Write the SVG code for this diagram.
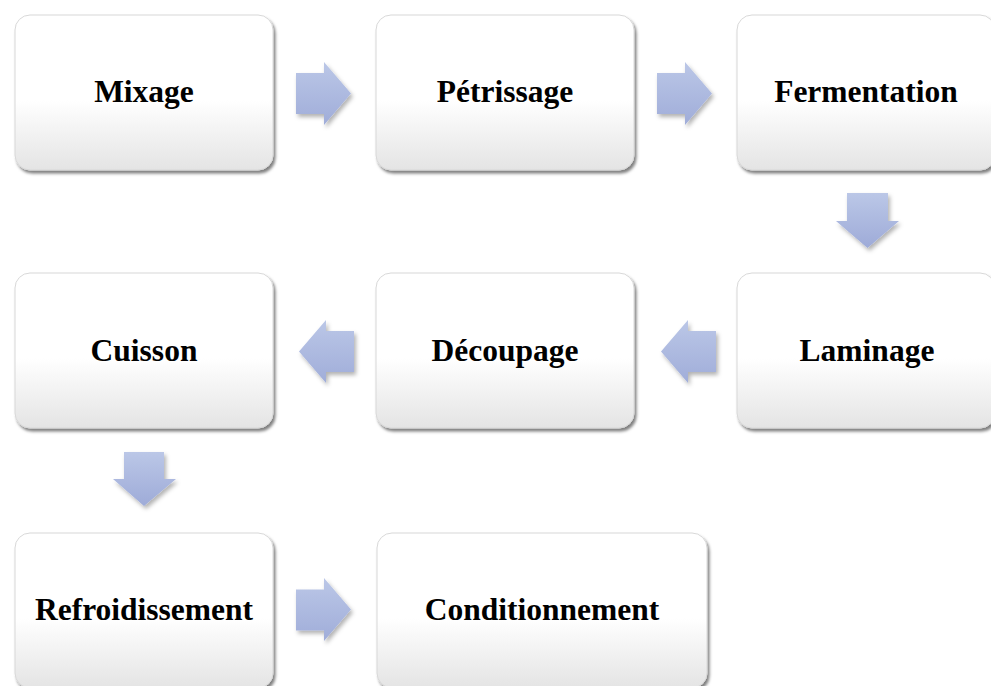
<svg xmlns="http://www.w3.org/2000/svg" width="991" height="686" viewBox="0 0 991 686">
<defs>
<linearGradient id="boxGrad" x1="0" y1="0" x2="0" y2="1">
<stop offset="0" stop-color="#ffffff"/>
<stop offset="0.55" stop-color="#ffffff"/>
<stop offset="1" stop-color="#e4e4e4"/>
</linearGradient>
<linearGradient id="arrGradH" x1="0" y1="0" x2="0" y2="1">
<stop offset="0" stop-color="#bbc7e7"/>
<stop offset="1" stop-color="#a0add9"/>
</linearGradient>
<linearGradient id="arrGradV" x1="0" y1="0" x2="0" y2="1">
<stop offset="0" stop-color="#bbc7e7"/>
<stop offset="1" stop-color="#9eabd8"/>
</linearGradient>
<filter id="boxShadow" x="-10%" y="-10%" width="125%" height="125%">
<feDropShadow dx="2" dy="3" stdDeviation="1.8" flood-color="#000" flood-opacity="0.5"/>
</filter>
<filter id="arrShadow" x="-30%" y="-30%" width="170%" height="170%">
<feDropShadow dx="2" dy="3" stdDeviation="2" flood-color="#000" flood-opacity="0.3"/>
</filter>
</defs>
<style>
.box { fill: url(#boxGrad); stroke: #d8d8d8; stroke-width: 1; filter: url(#boxShadow); }
.lbl { font-family: "Liberation Serif", "Times New Roman", serif; font-weight: bold; font-size: 31.5px; fill: #000; text-anchor: middle; }
.arr { filter: url(#arrShadow); }
.arrH { fill: url(#arrGradH); }
.arrV { fill: url(#arrGradV); }
</style>
<rect width="991" height="686" fill="#ffffff"/>

<g id="connectors">
<g class="arr">
<polygon class="arrH" points="296,73 324,73 324,62 351,93.5 324,125 324,114 296,114"/>
<polygon class="arrH" points="657,73 685,73 685,62 712,93.5 685,125 685,114 657,114"/>
<polygon class="arrV" points="847,193 888,193 888,221 899,221 867.5,248 836,221 847,221"/>
<polygon class="arrH" points="716,331 688,331 688,320 661,351.5 688,383 688,372 716,372"/>
<polygon class="arrH" points="354,331 326,331 326,320 299,351.5 326,383 326,372 354,372"/>
<polygon class="arrV" points="124,452 164,452 164,479 176,479 144,506 113,479 124,479"/>
<polygon class="arrH" points="296,589.5 324,589.5 324,578 351,609.5 324,641 324,630.5 296,630.5"/>
</g>
</g>

<g id="n-mixage">
<rect class="box" x="15" y="15" width="258" height="155" rx="15"/>
<text class="lbl" x="144" y="102">Mixage</text>
</g>
<g id="n-petrissage">
<rect class="box" x="376" y="15" width="258" height="155" rx="15"/>
<text class="lbl" x="505" y="102">Pétrissage</text>
</g>
<g id="n-fermentation">
<rect class="box" x="737" y="15" width="258" height="155" rx="15"/>
<text class="lbl" x="866" y="102">Fermentation</text>
</g>
<g id="n-laminage">
<rect class="box" x="737" y="273" width="258" height="155" rx="15"/>
<text class="lbl" x="867" y="361">Laminage</text>
</g>
<g id="n-decoupage">
<rect class="box" x="376" y="273" width="258" height="155" rx="15"/>
<text class="lbl" x="505" y="361">Découpage</text>
</g>
<g id="n-cuisson">
<rect class="box" x="15" y="273" width="258" height="155" rx="15"/>
<text class="lbl" x="144" y="361">Cuisson</text>
</g>
<g id="n-refroidissement">
<rect class="box" x="15" y="533" width="258" height="155" rx="15"/>
<text class="lbl" x="144" y="620">Refroidissement</text>
</g>
<g id="n-conditionnement">
<rect class="box" x="377" y="533" width="330" height="155" rx="15"/>
<text class="lbl" x="542" y="620">Conditionnement</text>
</g>
</svg>
